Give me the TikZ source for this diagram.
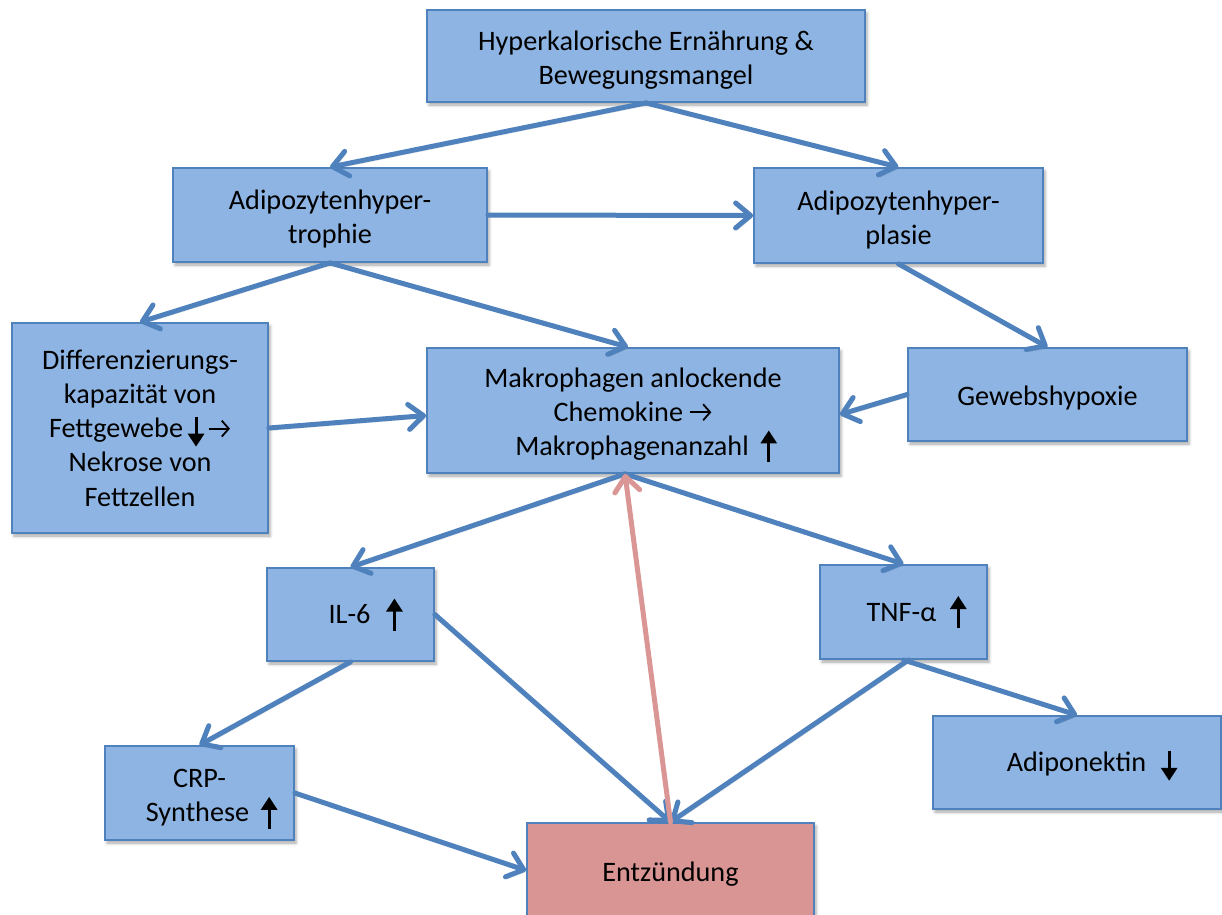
\documentclass[tikz,border=0pt]{standalone}
\usepackage{fontspec}
\setmainfont{Carlito}
\usetikzlibrary{arrows.meta,shadows.blur}

\definecolor{boxfill}{RGB}{141,180,226}
\definecolor{boxline}{RGB}{79,129,189}
\definecolor{flowblue}{RGB}{79,129,189}
\definecolor{inflfill}{RGB}{217,149,148}
\definecolor{inflarrow}{RGB}{217,150,148}

% small bold arrows used inside the labels
\newcommand\incr{\tikz[baseline=0pt]{\path (-8pt,0pt) (8pt,0pt);
  \draw[black,line width=3pt,-{Triangle[length=13pt,width=16pt]}] (0pt,-7pt) -- (0pt,25pt);}}
\newcommand\decr{\tikz[baseline=0pt]{\path (-8pt,0pt) (8pt,0pt);
  \draw[black,line width=3pt,-{Triangle[length=13pt,width=16pt]}] (0pt,21pt) -- (0pt,-9pt);}}
\newcommand\thenarr{\tikz[baseline=0pt]{\path (0pt,0pt) (22pt,0pt);
  \draw[black,line width=1.8pt,-{Straight Barb[length=7pt,width=16pt]}] (0pt,9pt) -- (21pt,9pt);}}
% invisible strut that lowers a label inside its box
\newcommand\lowr[1]{\rule{0pt}{#1}}

\begin{document}
\begin{tikzpicture}[x=1pt,y=-1pt,
  box/.style={draw=boxline,line width=1.8pt,fill=boxfill,inner sep=0pt,align=center,
    font=\fontsize{28.2}{34.2}\selectfont,
    blur shadow={shadow xshift=2pt,shadow yshift=-3pt,shadow blur radius=3pt,shadow opacity=35}},
  flow/.style={draw=flowblue,line width=5pt,line cap=round,
    -{Straight Barb[length=15pt,width=25pt,round]},
    preaction={draw=black,opacity=0.10,transform canvas={xshift=1.5pt,yshift=-2.5pt}}},
  backflow/.style={flow,draw=inflarrow}]

\useasboundingbox (0,0) rectangle (1222,914);

% boxes
\node[box,minimum width=438pt,minimum height=92pt] (top) at (646,56)
  {\lowr{28pt}Hyperkalorische Ernährung \&\\Bewegungsmangel};
\node[box,minimum width=314pt,minimum height=94pt] (hyt) at (330,215)
  {\lowr{28pt}Adipozytenhyper-\\trophie};
\node[box,minimum width=289pt,minimum height=95pt] (hyp) at (898.5,215.5)
  {\lowr{28pt}Adipozytenhyper-\\plasie};
\node[box,minimum width=256pt,minimum height=210pt] (dif) at (140,428)
  {Differenzierungs-\\kapazität von\\Fettgewebe\hspace{5pt}\decr\hspace{4pt}\thenarr\\Nekrose von\\Fettzellen};
\node[box,minimum width=412pt,minimum height=125pt] (mak) at (633,410.5)
  {\lowr{30pt}Makrophagen anlockende\\Chemokine \thenarr\\\hspace*{26pt}Makrophagenanzahl\hspace{12pt}\incr};
\node[box,minimum width=279pt,minimum height=93pt] (hox) at (1047.5,394.5)
  {\lowr{26pt}Gewebshypoxie};
\node[box,minimum width=167pt,minimum height=93pt] (il6) at (350.5,614.5)
  {\hspace*{30pt}IL-6\hspace{16pt}\incr};
\node[box,minimum width=167pt,minimum height=94pt] (tnf) at (903.5,612)
  {\hspace*{26pt}TNF-α\hspace{14pt}\incr};
\node[box,minimum width=189pt,minimum height=94pt] (crp) at (199.5,793)
  {\lowr{32pt}CRP-\\\hspace*{24pt}Synthese\hspace{12pt}\incr};
\node[box,minimum width=288pt,minimum height=93pt] (adi) at (1077,762.5)
  {\lowr{29pt}\hspace*{30pt}Adiponektin\hspace{15pt}\decr};
\node[box,fill=inflfill,minimum width=287pt,minimum height=95pt] (ent) at (670.5,870.5)
  {\lowr{26pt}Entzündung};

% connectors
\draw[flow] (top.south) -- (hyt.north);
\draw[flow] (top.south) -- (hyp.north);
\draw[flow] (hyt.east) -- (hyp.west);
\draw[flow] (hyt.south) -- (dif.north);
\draw[flow] (hyt.south) -- ([xshift=-5pt]mak.north);
\draw[flow] (hyp.south) -- (hox.north);
\draw[flow] (hox.west) -- ([yshift=-4pt]mak.east);
\draw[flow] (dif.east) -- ([yshift=-5pt]mak.west);
\draw[flow] ([xshift=-8pt]mak.south) -- (il6.north);
\draw[flow] ([xshift=-8pt]mak.south) -- (tnf.north);
\draw[flow] (il6.south) -- (crp.north);
\draw[flow] (il6.east) -- (ent.north);
\draw[flow] ([xshift=5pt]tnf.south) -- (ent.north);
\draw[flow] (tnf.south) -- (adi.north);
\draw[flow] (crp.east) -- (ent.west);
\draw[backflow] (ent.north) -- ([xshift=-8pt]mak.south);

\end{tikzpicture}
\end{document}
